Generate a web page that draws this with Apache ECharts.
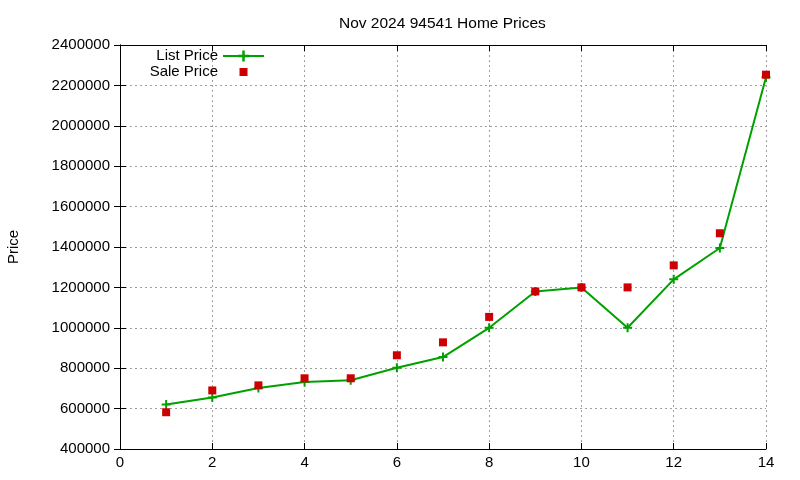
<!DOCTYPE html>
<html>
<head>
<meta charset="utf-8">
<script src="https://cdn.jsdelivr.net/npm/echarts@6/dist/echarts.min.js"></script>
<style>
  html, body { margin: 0; padding: 0; background: #fff; }
  #chart { width: 800px; height: 480px; }
</style>
</head>
<body>
<div id="chart"></div>
<script>
// month index 1..14
const xValues = [1, 2, 3, 4, 5, 6, 7, 8, 9, 10, 11, 12, 13, 14];
const listPrice = [620000, 655000, 702000, 732000, 740000, 802000, 855000, 1000000, 1180000, 1200000, 1000000, 1240000, 1395000, 2240000];
const salePrice = [582000, 690000, 715000, 750000, 750000, 864000, 928000, 1054000, 1180000, 1200000, 1200000, 1309000, 1468000, 2253000];

const FONT = 'Liberation Sans';
const PLUS = 'path://M3.5,0h2v3.5h3.5v2h-3.5v3.5h-2v-3.5h-3.5v-2h3.5z';
// small square with padding so the legend icon stays small
const SMALL_SQ = 'path://M0,0L0,0M14,14L14,14M3,3L11,3L11,11L3,11Z';

const chart = echarts.init(document.getElementById('chart'));

const gridLine = { show: true, lineStyle: { color: '#a0a0a0', type: [2, 3], width: 1 } };
const border = { show: true, lineStyle: { color: '#000', width: 1 } };
const tick = { show: true, inside: true, length: 6, lineStyle: { color: '#000' } };

chart.setOption({
  animation: false,
  title: {
    text: 'Nov 2024 94541 Home Prices',
    left: 334,
    top: 11,
    textStyle: { fontFamily: FONT, fontSize: 15.5, fontWeight: 'normal', color: '#000' },
  },
  legend: {
    orient: 'vertical',
    left: 138,
    top: 43,
    align: 'right',
    itemWidth: 41,
    itemHeight: 14,
    itemGap: 0,
    textStyle: { fontFamily: FONT, fontSize: 15, color: '#000', width: 75, align: 'right', lineHeight: 16 },
    data: [
      { name: 'List Price' },
      { name: 'Sale Price', icon: SMALL_SQ },
    ],
  },
  grid: { left: 120, right: 34, top: 45, bottom: 31, containLabel: false, outerBoundsMode: 'none' },
  xAxis: [
    {
      type: 'value',
      min: 0,
      max: 14,
      interval: 2,
      axisLine: border,
      axisTick: tick,
      splitLine: gridLine,
      axisLabel: { fontFamily: FONT, fontSize: 15, color: '#000', margin: 6 },
    },
    {
      type: 'value',
      position: 'top',
      min: 0,
      max: 14,
      interval: 2,
      axisLine: border,
      axisTick: tick,
      splitLine: { show: false },
      axisLabel: { show: false },
    },
  ],
  yAxis: [
    {
      type: 'value',
      min: 400000,
      max: 2400000,
      interval: 200000,
      name: 'Price',
      nameLocation: 'middle',
      nameGap: 99,
      nameTextStyle: { fontFamily: FONT, fontSize: 15, color: '#000' },
      axisLine: border,
      axisTick: tick,
      splitLine: gridLine,
      axisLabel: { fontFamily: FONT, fontSize: 15, color: '#000', margin: 10, formatter: (v) => String(v) },
    },
    {
      type: 'value',
      position: 'right',
      min: 400000,
      max: 2400000,
      interval: 200000,
      axisLine: border,
      axisTick: tick,
      splitLine: { show: false },
      axisLabel: { show: false },
    },
  ],
  series: [
    {
      name: 'List Price',
      type: 'line',
      data: xValues.map((x, i) => [x, listPrice[i]]),
      symbol: PLUS,
      symbolSize: 9,
      showAllSymbol: true,
      itemStyle: { color: '#00a000' },
      lineStyle: { color: '#00a000', width: 2 },
      z: 2,
    },
    {
      name: 'Sale Price',
      type: 'scatter',
      data: xValues.map((x, i) => [x, salePrice[i]]),
      symbol: 'rect',
      symbolSize: 8,
      itemStyle: { color: '#cc0000', opacity: 1 },
      z: 3,
    },
  ],
});
</script>
</body>
</html>
